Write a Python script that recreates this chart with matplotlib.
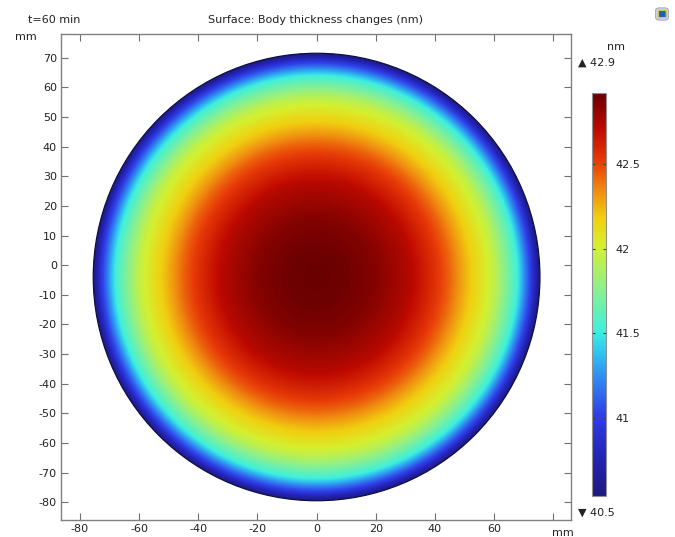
import numpy as np
import matplotlib
matplotlib.use("Agg")
import matplotlib.pyplot as plt
from matplotlib.colors import LinearSegmentedColormap, Normalize
from matplotlib.patches import Circle, FancyBboxPatch
from matplotlib.cm import ScalarMappable

# ---- data ----
disk_center = (0.0, -4.0)      # mm
disk_radius = 75.5             # mm
profile_r = [0, 10, 20, 32, 40, 45, 51, 56, 60, 63, 68, 72.5, 75.5]     # mm from centre
profile_v = [42.92, 42.90, 42.85, 42.73, 42.56, 42.43, 42.23, 42.08,
             41.95, 41.80, 41.52, 41.00, 40.55]                          # nm
vmin, vmax = 40.54, 42.92
cbar_ticks = [41, 41.5, 42, 42.5]
cbar_ticklabels = ["41", "41.5", "42", "42.5"]
x_ticks = [-80, -60, -40, -20, 0, 20, 40, 60, 80]
y_ticks = [70, 60, 50, 40, 30, 20, 10, 0, -10, -20, -30, -40, -50, -60, -70, -80]
max_label, min_label = "42.9", "40.5"

# ---- colormap (COMSOL-like rainbow) ----
stops = [(0.00, "#1c1a80"), (0.10, "#2424b8"), (0.20, "#2f3fe8"), (0.29, "#3088f0"),
         (0.36, "#30c8f0"), (0.41, "#3ef0dc"), (0.52, "#90f088"), (0.62, "#d4f030"),
         (0.69, "#f0d010"), (0.76, "#f08a10"), (0.83, "#e83c08"), (0.91, "#c00a00"),
         (1.00, "#6a0000")]
cmap = LinearSegmentedColormap.from_list("comsol_rainbow", stops)
norm = Normalize(vmin=vmin, vmax=vmax)

W, H = 675, 537
fig = plt.figure(figsize=(W / 100, H / 100), dpi=100)
ax = fig.add_axes([61 / W, 1 - 520 / H, 510 / W, 486 / H])

# field
xs = np.linspace(-disk_radius, disk_radius, 700) + disk_center[0]
ys = np.linspace(-disk_radius, disk_radius, 700) + disk_center[1]
X, Y = np.meshgrid(xs, ys)
R = np.hypot(X - disk_center[0], Y - disk_center[1])
Z = np.interp(R, profile_r, profile_v)
Z = np.ma.masked_where(R > disk_radius + 0.5, Z)
im = ax.imshow(Z, cmap=cmap, norm=norm, origin="lower", interpolation="bilinear",
               extent=[xs[0], xs[-1], ys[0], ys[-1]], zorder=1)
clip = Circle(disk_center, disk_radius, transform=ax.transData)
im.set_clip_path(clip)
ax.add_patch(Circle(disk_center, disk_radius, fill=False, ec="#101040", lw=0.9, zorder=2))

ax.set_xlim(-86.4, 86.0)
ax.set_ylim(-86.0, 78.0)
ax.set_aspect("auto")
ax.set_xticks(x_ticks)
ax.set_yticks(y_ticks)
ax.set_xticklabels([str(v) for v in x_ticks])
ax.set_yticklabels([str(v) for v in y_ticks])
ax.tick_params(direction="in", length=5, width=0.8, color="#707070", labelsize=8,
               top=True, right=True, labelcolor="#222222", pad=3)
for s in ax.spines.values():
    s.set_color("#808080")
    s.set_linewidth(1.0)
# hide the 80 label (not shown in the reference)
for lab in ax.get_xticklabels():
    if lab.get_text() == "80":
        lab.set_visible(False)

# texts
fig.text(28 / W, 1 - 20 / H, "t=60 min", fontsize=8, ha="left", va="center", color="#222222")
fig.text(316 / W, 1 - 20 / H, "Surface: Body thickness changes (nm)", fontsize=8,
         ha="center", va="center", color="#222222")
fig.text(26 / W, 1 - 37 / H, "mm", fontsize=8, ha="center", va="center", color="#222222")
fig.text(563 / W, 1 - 533 / H, "mm", fontsize=8, ha="center", va="center", color="#222222")

# colorbar
cax = fig.add_axes([592 / W, 1 - 496 / H, 14 / W, 403 / H])
cb = fig.colorbar(ScalarMappable(norm=norm, cmap=cmap), cax=cax)
cb.set_ticks(cbar_ticks)
cb.set_ticklabels(cbar_ticklabels)
cax.tick_params(direction="in", length=2.5, width=0.8, color="#404040", labelsize=8,
                left=True, right=True, labelcolor="#222222", pad=7)
cb.outline.set_edgecolor("#909090")
cb.outline.set_linewidth(0.8)
fig.text(616 / W, 1 - 47 / H, "nm", fontsize=8, ha="center", va="center", color="#222222")
fig.text(578 / W, 1 - 63 / H, "\u25b2 " + max_label, fontsize=8, ha="left", va="center", color="#222222")
fig.text(578 / W, 1 - 513 / H, "\u25bc " + min_label, fontsize=8, ha="left", va="center", color="#222222")

# small logo icon top-right
iax = fig.add_axes([655 / W, 1 - 21 / H, 14 / W, 14 / H])
iax.set_xlim(0, 1); iax.set_ylim(0, 1); iax.axis("off")
iax.add_patch(FancyBboxPatch((0.05, 0.08), 0.9, 0.84, boxstyle="round,pad=0.02,rounding_size=0.25",
                             fc="#c8d0dc", ec="#a0a8b8", lw=0.6))
iax.add_patch(FancyBboxPatch((0.25, 0.25), 0.55, 0.5, boxstyle="round,pad=0.0,rounding_size=0.08",
                             fc="#1560c0", ec="#d8c040", lw=0.8))

fig.savefig("out.png", dpi=100)
